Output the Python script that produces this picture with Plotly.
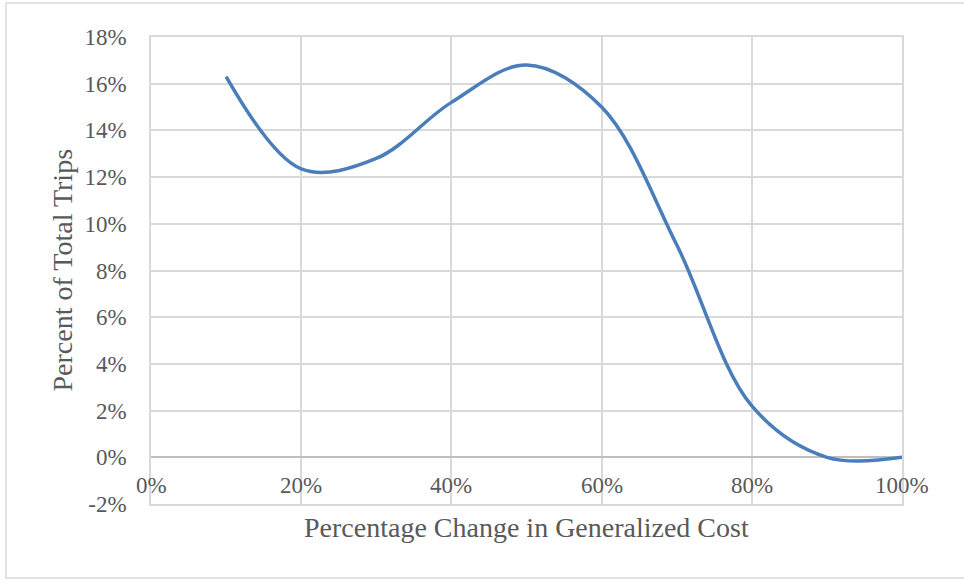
import plotly.graph_objects as go

# Share of trips by percentage change in generalized cost
cost_change_pct = [10, 20, 30, 40, 50, 60, 70, 80, 90, 100]
trip_share_pct = [16.3, 12.35, 12.8, 15.2, 16.8, 15.0, 9.1, 2.2, 0.0, 0.0]

x_tick_vals = [0, 20, 40, 60, 80, 100]
x_tick_text = ["0%", "20%", "40%", "60%", "80%", "100%"]
y_tick_vals = [-2, 0, 2, 4, 6, 8, 10, 12, 14, 16, 18]
y_tick_text = ["-2%", "0%", "2%", "4%", "6%", "8%", "10%", "12%", "14%", "16%", "18%"]

FONT = "Liberation Serif, Times New Roman, serif"
TEXT_GREY = "#595959"
GRID = "#d9d9d9"

W, H = 964, 580
M_L, M_R, M_T, M_B = 151, 62, 37, 76
PW, PH = W - M_L - M_R, H - M_T - M_B


def px_to_paper_x(px):
    return (px - M_L) / PW


def px_to_paper_y(py):
    return (H - M_B - py) / PH


fig = go.Figure()
fig.add_trace(go.Scatter(
    x=cost_change_pct,
    y=trip_share_pct,
    mode="lines",
    line=dict(color="#4A7EBB", width=3.5, shape="spline", smoothing=1.0),
    hoverinfo="skip",
    showlegend=False,
))

# x tick labels sit just under the 0% line, as in a spreadsheet chart
annotations = [
    dict(x=v, y=0, xref="x", yref="y", text=t, showarrow=False,
         xanchor="center", yanchor="top", yshift=-14,
         font=dict(family=FONT, size=23, color=TEXT_GREY))
    for v, t in zip(x_tick_vals, x_tick_text)
]
annotations.append(dict(
    x=0.5, y=px_to_paper_y(527), xref="paper", yref="paper",
    text="Percentage Change in Generalized Cost", showarrow=False,
    xanchor="center", yanchor="middle",
    font=dict(family=FONT, size=28, color=TEXT_GREY)))
annotations.append(dict(
    x=px_to_paper_x(62), y=0.5, xref="paper", yref="paper",
    text="Percent of Total Trips", showarrow=False, textangle=-90,
    xanchor="center", yanchor="middle",
    font=dict(family=FONT, size=28, color=TEXT_GREY)))

fig.update_layout(
    width=W, height=H,
    margin=dict(l=M_L, r=M_R, t=M_T, b=M_B),
    paper_bgcolor="white",
    plot_bgcolor="white",
    annotations=annotations,
    shapes=[dict(
        type="rect", xref="paper", yref="paper",
        x0=px_to_paper_x(6), x1=px_to_paper_x(970),
        y0=px_to_paper_y(578), y1=px_to_paper_y(3),
        line=dict(color=GRID, width=1.5), layer="below")],
)

fig.update_xaxes(
    range=[0, 100],
    tickvals=x_tick_vals,
    showticklabels=False,
    showgrid=True, gridcolor=GRID, gridwidth=1.5,
    zeroline=False,
    showline=True, mirror=True, linecolor=GRID, linewidth=1.5,
)
fig.update_yaxes(
    range=[-2, 18],
    tickvals=y_tick_vals,
    ticktext=y_tick_text,
    tickfont=dict(family=FONT, size=23, color=TEXT_GREY),
    ticklabelstandoff=18,
    showgrid=True, gridcolor=GRID, gridwidth=1.5,
    zeroline=True, zerolinecolor="#bfbfbf", zerolinewidth=1.5,
    showline=True, mirror=True, linecolor=GRID, linewidth=1.5,
)

fig.write_html("out.html")
